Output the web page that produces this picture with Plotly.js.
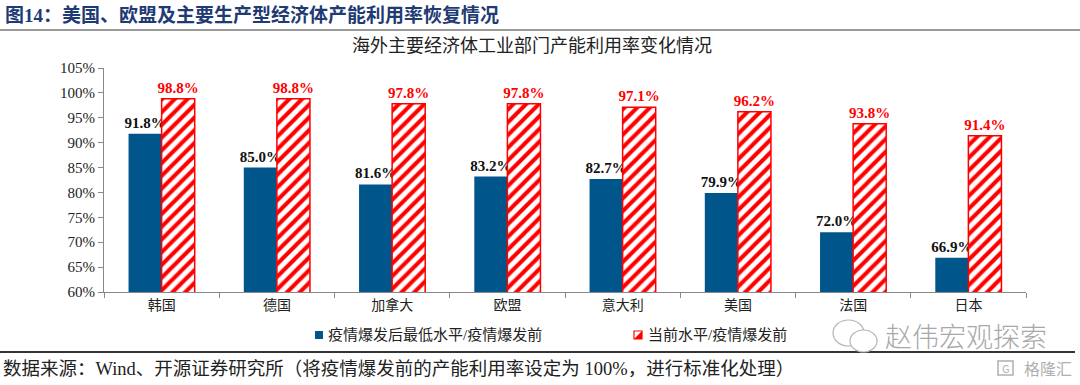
<!DOCTYPE html>
<html>
<head>
<meta charset="utf-8">
<script src="https://cdn.plot.ly/plotly-3.0.1.min.js"></script>
<style>
html,body{margin:0;padding:0;background:#fff;}
#chart{width:1080px;height:385px;}
</style>
</head>
<body>
<div id="chart"></div>
<script>
const categories = ["韩国", "德国", "加拿大", "欧盟", "意大利", "美国", "法国", "日本"];
const lowLevel = [91.8, 85.0, 81.6, 83.2, 82.7, 79.9, 72.0, 66.9];
const currentLevel = [98.8, 98.8, 97.8, 97.8, 97.1, 96.2, 93.8, 91.4];
const seriesNames = ["疫情爆发后最低水平/疫情爆发前", "当前水平/疫情爆发前"];
const yTicks = [60, 65, 70, 75, 80, 85, 90, 95, 100, 105];

const serif = '"Liberation Serif", "Noto Sans CJK SC", serif';
const cjk = '"Liberation Serif", "Noto Sans CJK SC", serif';
const sans = '"Noto Sans CJK SC", sans-serif';

// plot area geometry in pixels (for helper conversions of decorations only)
const L = 104, R = 1026, T = 68, B = 292;
const px = x => (x - L) / (R - L);
const py = y => (B - y) / (B - T);

const fmt = v => v.toFixed(1) + '%';

const traces = [
  {
    type: 'bar', x: categories, y: lowLevel, name: seriesNames[0],
    marker: {color: '#00558A', line: {width: 0}},
    text: lowLevel.map(fmt), textposition: 'outside', cliponaxis: false, constraintext: 'none',
    textfont: {family: serif, size: 15, color: '#111', weight: 'bold'},
    hoverinfo: 'skip', showlegend: false
  },
  {
    type: 'bar', x: categories, y: currentLevel, name: seriesNames[1],
    marker: {color: '#ffffff', line: {color: '#FF0000', width: 1.5},
      pattern: {shape: '/', fgcolor: '#FF0000', bgcolor: '#ffffff', size: 9, solidity: 0.45, fillmode: 'replace'}},
    text: currentLevel.map(fmt), textposition: 'outside', cliponaxis: false, constraintext: 'none',
    textfont: {family: serif, size: 15, color: '#FF0000', weight: 'bold'},
    hoverinfo: 'skip', showlegend: false
  }
];

const layout = {
  width: 1080, height: 385,
  margin: {l: L, r: 1080 - R, t: T, b: 385 - B},
  paper_bgcolor: '#fff', plot_bgcolor: '#fff',
  barmode: 'group', bargap: 0.426, bargroupgap: 0,
  showlegend: false,
  xaxis: {
    showline: true, linecolor: '#888', linewidth: 1,
    ticks: 'outside', ticklen: 5, tickcolor: '#888', tickson: 'boundaries',
    tickfont: {family: cjk, size: 14, color: '#222'}, showgrid: false, zeroline: false,
    fixedrange: true
  },
  yaxis: {
    range: [60, 105], tickvals: yTicks, ticktext: yTicks.map(v => v + '%'),
    showline: true, linecolor: '#888', linewidth: 1,
    ticks: 'outside', ticklen: 5, tickcolor: '#888',
    tickfont: {family: serif, size: 15, color: '#222'}, showgrid: false, zeroline: false,
    fixedrange: true
  },
  shapes: [
    // header rule
    {type: 'line', xref: 'paper', yref: 'paper', x0: px(0), x1: px(1080), y0: py(30), y1: py(30),
     line: {color: '#9a9a9a', width: 2}},
    // footer rule
    {type: 'line', xref: 'paper', yref: 'paper', x0: px(0), x1: px(1075), y0: py(352), y1: py(352),
     line: {color: '#333', width: 2}},
    // legend symbols
    {type: 'rect', xref: 'paper', yref: 'paper', x0: px(315), x1: px(323), y0: py(339), y1: py(331),
     fillcolor: '#00558A', line: {width: 0}},
    {type: 'rect', xref: 'paper', yref: 'paper', x0: px(634), x1: px(642), y0: py(339), y1: py(331),
     fillcolor: '#ffffff', line: {color: '#FF0000', width: 1.2}},
    {type: 'path', xref: 'paper', yref: 'paper',
     path: `M ${px(642)} ${py(331)} L ${px(642)} ${py(339)} L ${px(634)} ${py(339)} Z`,
     fillcolor: '#FF0000', line: {width: 0}},
    // wechat-like icon of watermark
    {type: 'circle', xref: 'paper', yref: 'paper', x0: px(833), x1: px(864), y0: py(346), y1: py(320),
     fillcolor: 'rgba(255,255,255,0.9)', line: {color: '#b5b5b5', width: 1.2}},
    {type: 'circle', xref: 'paper', yref: 'paper', x0: px(850), x1: px(877), y0: py(352), y1: py(330),
     fillcolor: '#ffffff', line: {color: '#b5b5b5', width: 1.2}},
    // logo box bottom right
    {type: 'rect', xref: 'paper', yref: 'paper', x0: px(998), x1: px(1013), y0: py(375), y1: py(361),
     fillcolor: 'rgba(0,0,0,0)', line: {color: '#b0b0b0', width: 1.5}}
  ],
  annotations: [
    {xref: 'paper', yref: 'paper', x: px(3), y: py(15), xanchor: 'left', yanchor: 'middle',
     text: '<b>图14：美国、欧盟及主要生产型经济体产能利用率恢复情况</b>', showarrow: false,
     font: {family: cjk, size: 19, color: '#1F3B73'}},
    {xref: 'paper', yref: 'paper', x: px(532), y: py(46), xanchor: 'center', yanchor: 'middle',
     text: '海外主要经济体工业部门产能利用率变化情况', showarrow: false,
     font: {family: cjk, size: 18, color: '#222'}},
    // legend texts
    {xref: 'paper', yref: 'paper', x: px(326), y: py(335), xanchor: 'left', yanchor: 'middle',
     text: seriesNames[0], showarrow: false,
     font: {family: cjk, size: 15, color: '#222'}},
    {xref: 'paper', yref: 'paper', x: px(646), y: py(335), xanchor: 'left', yanchor: 'middle',
     text: seriesNames[1], showarrow: false,
     font: {family: cjk, size: 15, color: '#222'}},
    // watermark
    {xref: 'paper', yref: 'paper', x: px(883), y: py(335), xanchor: 'left', yanchor: 'middle',
     text: '赵伟宏观探索', showarrow: false,
     font: {family: sans, size: 27, color: '#a8a8a8', weight: 300}},
    {xref: 'paper', yref: 'paper', x: px(1), y: py(369), xanchor: 'left', yanchor: 'middle',
     text: '数据来源：Wind、开源证券研究所（将疫情爆发前的产能利用率设定为 100%，进行标准化处理）', showarrow: false,
     font: {family: cjk, size: 18.5, color: '#222'}},
    {xref: 'paper', yref: 'paper', x: px(1006), y: py(368), xanchor: 'center', yanchor: 'middle',
     text: 'G', showarrow: false,
     font: {family: sans, size: 11, color: '#b0b0b0'}},
    {xref: 'paper', yref: 'paper', x: px(1074), y: py(368), xanchor: 'right', yanchor: 'middle',
     text: '格隆汇', showarrow: false,
     font: {family: sans, size: 16, color: '#b0b0b0'}}
  ]
};

Plotly.newPlot('chart', traces, layout, {displayModeBar: false, staticPlot: true});
</script>
</body>
</html>
